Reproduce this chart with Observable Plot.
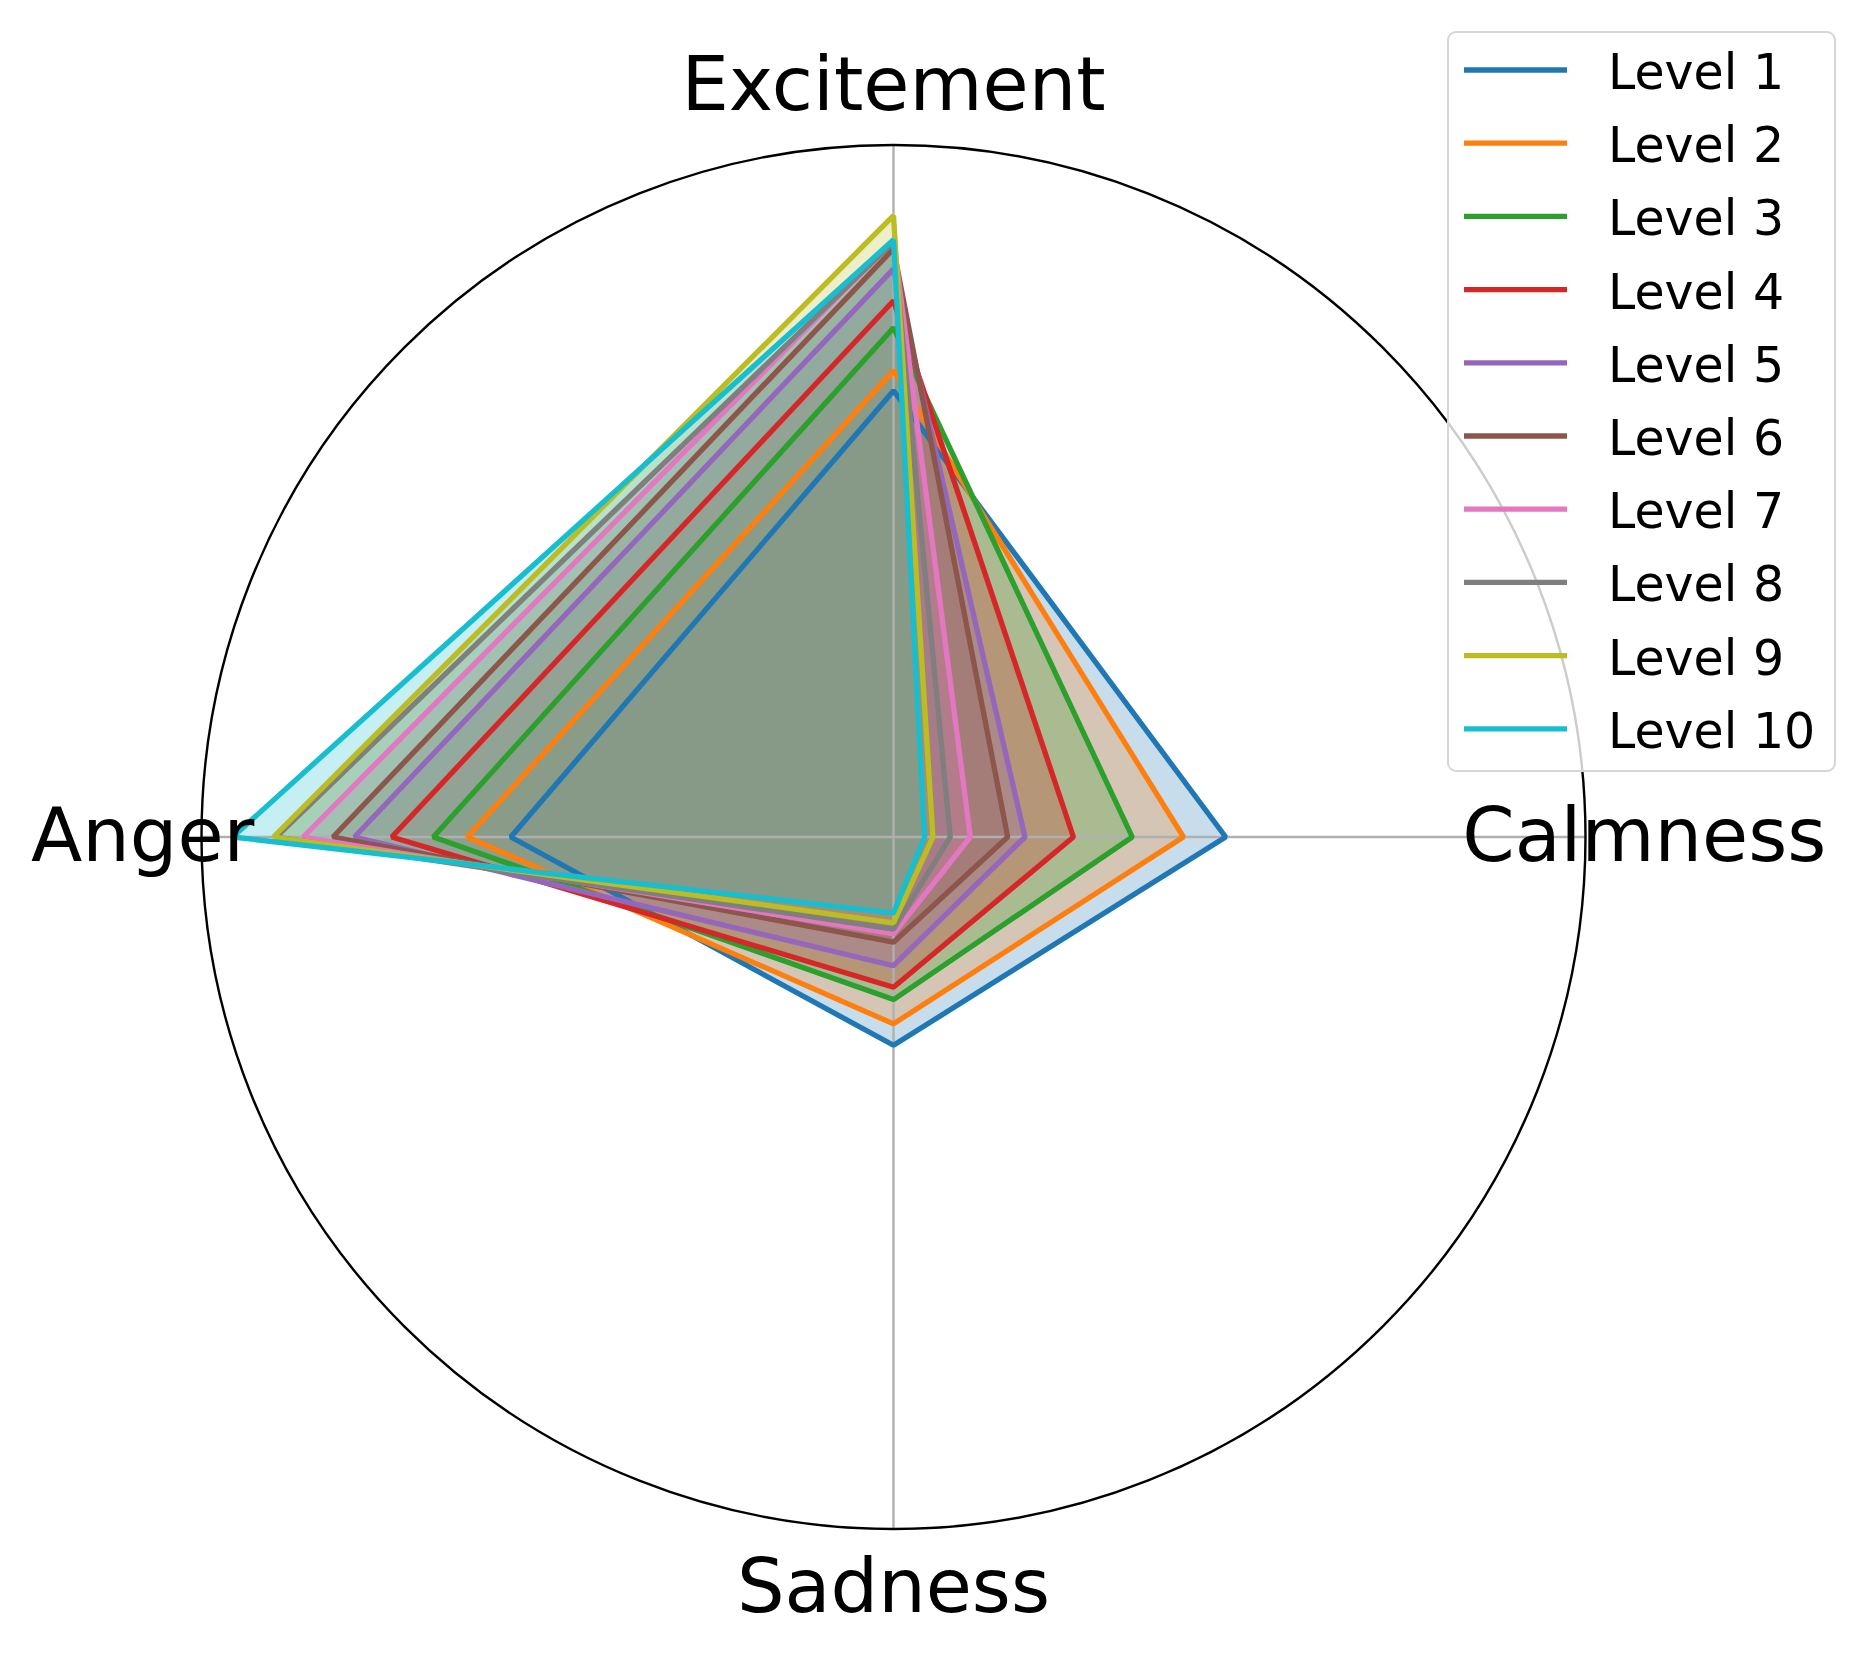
<!DOCTYPE html>
<html>
<head>
<meta charset="utf-8">
<script src="https://cdn.jsdelivr.net/npm/d3@7"></script>
<script src="https://cdn.jsdelivr.net/npm/@observablehq/plot@0.6"></script>
<style>
  body { margin: 0; background: #fff; }
  #wrap { position: relative; width: 1868px; height: 1654px; font-family: "DejaVu Sans", sans-serif; }
  #legend { position: absolute; left: 1447px; top: 31px; width: 385px; height: 737px;
            border: 2px solid #d6d6d6; border-radius: 9px; background: rgba(255,255,255,0.8); }
  #legend svg { position: absolute; left: -2px; top: -2px; }
</style>
</head>
<body>
<div id="wrap"><div id="chart"></div><div id="legend"></div></div>
<script>
// ---- data ----
const categories = ["Excitement", "Calmness", "Sadness", "Anger"];
const levels = ["Level 1", "Level 2", "Level 3", "Level 4", "Level 5", "Level 6", "Level 7", "Level 8", "Level 9", "Level 10"];
const excitement = [0.645, 0.674, 0.736, 0.775, 0.821, 0.850, 0.862, 0.860, 0.898, 0.863];
const calmness   = [0.480, 0.419, 0.345, 0.260, 0.190, 0.165, 0.111, 0.082, 0.057, 0.045];
const sadness    = [0.301, 0.270, 0.235, 0.217, 0.186, 0.152, 0.140, 0.133, 0.124, 0.110];
const anger      = [0.553, 0.616, 0.665, 0.725, 0.779, 0.810, 0.853, 0.892, 0.896, 0.955];
const colors = ["#1f77b4", "#ff7f0e", "#2ca02c", "#d62728", "#9467bd", "#8c564b", "#e377c2", "#7f7f7f", "#bcbd22", "#17becf"];

// ---- build table ----
const series = [excitement, calmness, sadness, anger];
const angles = categories.map((c, j) => j * Math.PI / 2); // clockwise from top
const rows = [];
levels.forEach((lv, i) => {
  categories.forEach((c, j) => {
    const r = series[j][i];
    rows.push({level: lv, idx: i, cat: c, x: r * Math.sin(angles[j]), y: r * Math.cos(angles[j])});
  });
});

const W = 1868, H = 1654, R = 692, CX = 893, CY = 836.5;
const LW = 5.3;

const marks = [];
// fills first (patches), then grid, then lines, then spine
levels.forEach((lv, i) => {
  marks.push(Plot.line(rows.filter(d => d.idx === i), {
    x: "x", y: "y", curve: "linear-closed", fill: colors[i], fillOpacity: 0.25, stroke: "none"
  }));
});
marks.push(Plot.link(categories, {
  x1: 0, y1: 0,
  x2: (d, j) => Math.sin(angles[j]), y2: (d, j) => Math.cos(angles[j]),
  stroke: "#b0b0b0", strokeWidth: 2.4
}));
levels.forEach((lv, i) => {
  marks.push(Plot.line(rows.filter(d => d.idx === i), {
    x: "x", y: "y", curve: "linear-closed", stroke: colors[i], strokeWidth: LW,
    strokeLinejoin: "miter", fill: "none"
  }));
});
marks.push(Plot.dot([{x: 0, y: 0}], {x: "x", y: "y", r: R, stroke: "black", strokeWidth: 2.4, fill: "none"}));
marks.push(Plot.text(categories, {
  x: (d, j) => 1.085 * Math.sin(angles[j]),
  y: (d, j) => 1.085 * Math.cos(angles[j]),
  text: d => d, fontSize: 75, fill: "black", lineAnchor: "middle", textAnchor: "middle"
}));

const chart = Plot.plot({
  width: W, height: H,
  margin: 0,
  x: {domain: [-CX / R, (W - CX) / R], range: [0, W], axis: null},
  y: {domain: [-(H - CY) / R, CY / R], range: [H, 0], axis: null},
  style: {fontFamily: "DejaVu Sans", background: "white", overflow: "visible"},
  marks
});
document.getElementById("chart").appendChild(chart);

// ---- legend ----
const legend = d3.select("#legend").append("svg").attr("width", 389).attr("height", 741);
levels.forEach((lv, i) => {
  const cy = 70 - 31 + i * 73.2;
  legend.append("line").attr("x1", 1464 - 1447).attr("x2", 1567 - 1447)
    .attr("y1", cy).attr("y2", cy).attr("stroke", colors[i]).attr("stroke-width", LW);
  legend.append("text").attr("x", 1608 - 1447).attr("y", cy + 19)
    .attr("font-family", "DejaVu Sans").attr("font-size", 49).attr("fill", "black").text(lv);
});
</script>
</body>
</html>
